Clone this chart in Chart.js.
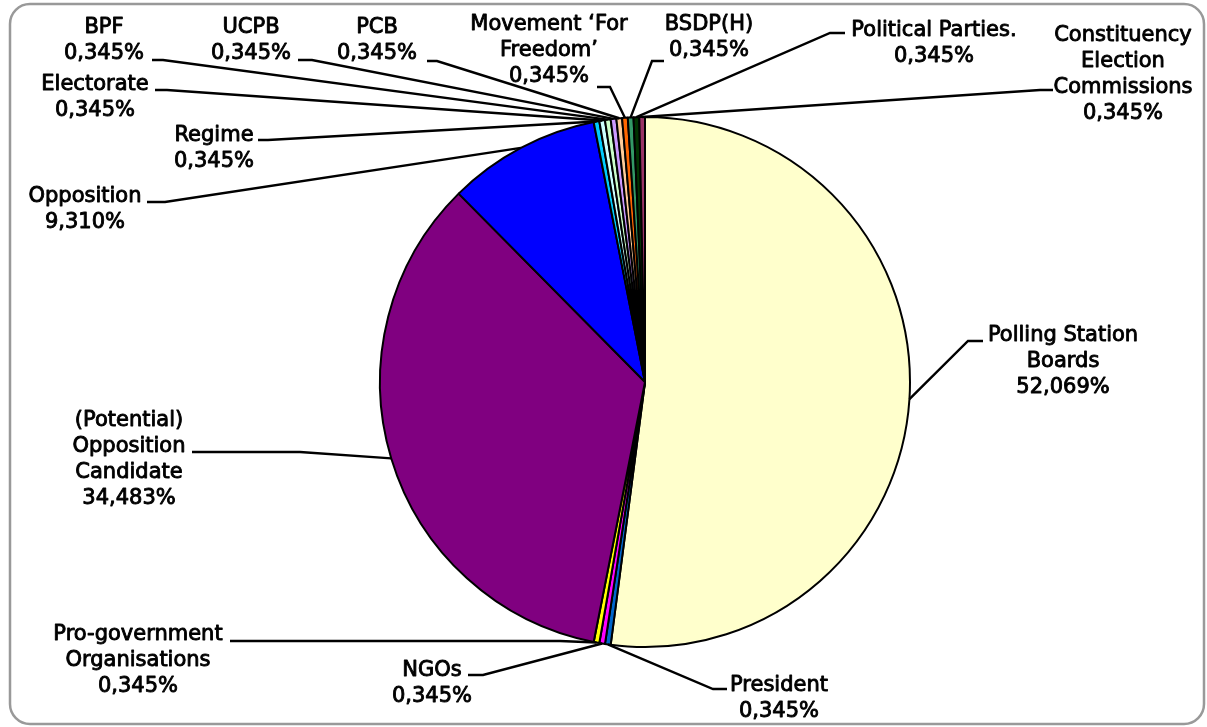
<!DOCTYPE html>
<html>
<head>
<meta charset="utf-8">
<script src="https://cdn.jsdelivr.net/npm/chart.js@4"></script>
<style>
  html, body { margin: 0; padding: 0; background: #fff; }
  #wrap { width: 1207px; height: 727px; }
</style>
</head>
<body>
<div id="wrap"><canvas id="stakeholders" width="1207" height="727"></canvas></div>
<script>
const categories = [
  ['Polling Station', 'Boards'],
  ['President'],
  ['NGOs'],
  ['Pro-government', 'Organisations'],
  ['(Potential)', 'Opposition', 'Candidate'],
  ['Opposition'],
  ['Regime'],
  ['Electorate'],
  ['BPF'],
  ['UCPB'],
  ['PCB'],
  ['Movement \u2018For', 'Freedom\u2019'],
  ['BSDP(H)'],
  ['Political Parties.'],
  ['Constituency', 'Election', 'Commissions']
]
const shares = [52.069, 0.345, 0.345, 0.345, 34.483, 9.310, 0.345, 0.345, 0.345, 0.345, 0.345, 0.345, 0.345, 0.345, 0.345]
const sliceColors = ['#FFFFCC', '#0066CC', '#FF00FF', '#FFFF00', '#800080', '#0000FF', '#00CCFF', '#CCFFFF',
  '#CCFFCC', '#CC99FF', '#FFCC99', '#FF6600', '#339966', '#003300', '#993366']

// label placement as left in the original: text centre, first line y, leader elbow
const labelSpots = [
  {x: 1063, y: 333, ex: 968, tx: 983, ey: 341},
  {x: 779, y: 683, ex: 713, tx: 727, ey: 689},
  {x: 432, y: 668, ex: 483, tx: 468, ey: 675},
  {x: 138, y: 632, ex: 560, tx: 230, ey: 641},
  {x: 129, y: 418, ex: 300, tx: 192, ey: 452},
  {x: 85, y: 194, ex: 165, tx: 147, ey: 202},
  {x: 214, y: 133, ex: 268, tx: 258, ey: 140},
  {x: 95, y: 82, ex: 167, tx: 155, ey: 90},
  {x: 104, y: 25, ex: 163, tx: 152, ey: 60},
  {x: 251, y: 25, ex: 312, tx: 298, ey: 60},
  {x: 377, y: 25, ex: 437, tx: 427, ey: 61},
  {x: 549, y: 22, ex: 610, tx: 597, ey: 87},
  {x: 709, y: 22, ex: 652, tx: 664, ey: 61},
  {x: 934, y: 28, ex: 830, tx: 845, ey: 33},
  {x: 1123, y: 33, ex: 1040, tx: 1053, ey: 90}
]
const lineGap = 26

const pct = v => v.toFixed(3).replace('.', ',') + '%'

const frame = {
  id: 'frame',
  beforeDraw(chart) {
    const ctx = chart.ctx
    const l = 10, t = 4, r = 1204, b = 724, rad = 20
    ctx.save()
    ctx.strokeStyle = '#999999'
    ctx.lineWidth = 2.5
    ctx.beginPath()
    ctx.moveTo(l + rad, t)
    ctx.arcTo(r, t, r, b, rad)
    ctx.arcTo(r, b, l, b, rad)
    ctx.arcTo(l, b, l, t, rad)
    ctx.arcTo(l, t, r, t, rad)
    ctx.closePath()
    ctx.stroke()
    ctx.restore()
  }
}

const leaderLabels = {
  id: 'leaderLabels',
  afterDatasetsDraw(chart) {
    const ctx = chart.ctx
    const arcs = chart.getDatasetMeta(0).data
    ctx.save()
    ctx.strokeStyle = '#000'
    ctx.lineWidth = 2.4
    arcs.forEach((arc, i) => {
      const s = labelSpots[i]
      const mid = (arc.startAngle + arc.endAngle) / 2
      ctx.beginPath()
      ctx.moveTo(arc.x + Math.cos(mid) * arc.outerRadius, arc.y + Math.sin(mid) * arc.outerRadius)
      ctx.lineTo(s.ex, s.ey)
      ctx.lineTo(s.tx, s.ey)
      ctx.stroke()
    })
    // regular weight thickened a little, closer to the original's Verdana look
    ctx.fillStyle = '#000'
    ctx.lineWidth = 0.9
    ctx.lineJoin = 'round'
    ctx.font = '21px "DejaVu Sans"'
    ctx.textAlign = 'center'
    ctx.textBaseline = 'alphabetic'
    arcs.forEach((arc, i) => {
      const s = labelSpots[i]
      const lines = categories[i].concat(pct(shares[i]))
      lines.forEach((txt, k) => {
        const y = s.y + 7.5 + k * lineGap
        ctx.fillText(txt, s.x, y)
        ctx.strokeText(txt, s.x, y)
      })
    })
    ctx.restore()
  }
}

new Chart(document.getElementById('stakeholders'), {
  type: 'pie',
  data: {
    labels: categories.map(c => c.join(' ')),
    datasets: [{
      data: shares,
      backgroundColor: sliceColors,
      borderColor: '#000',
      borderWidth: 2
    }]
  },
  options: {
    responsive: false,
    animation: false,
    layout: { padding: { left: 379, right: 296, top: 116, bottom: 79 } },
    plugins: {
      legend: { display: false },
      tooltip: { enabled: false }
    }
  },
  plugins: [frame, leaderLabels]
})
</script>
</body>
</html>
